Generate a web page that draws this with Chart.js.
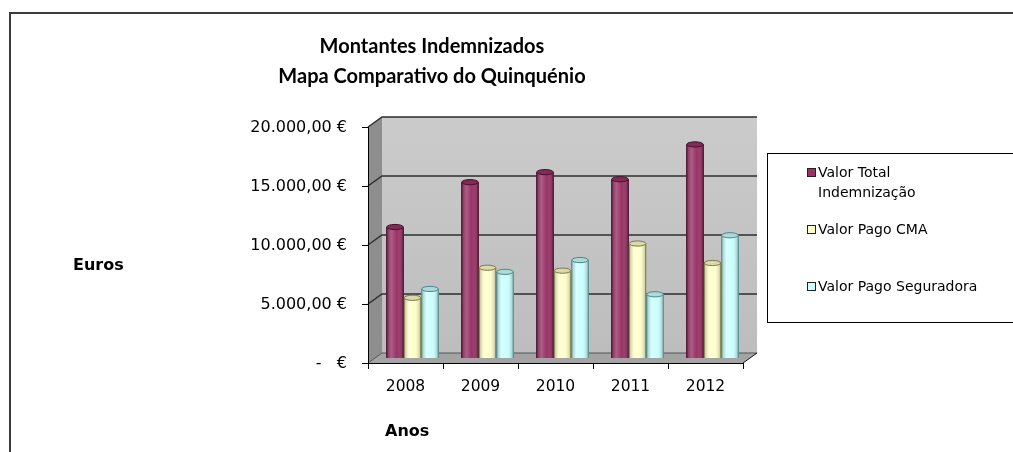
<!DOCTYPE html>
<html><head><meta charset="utf-8">
<script src="https://cdn.jsdelivr.net/npm/chart.js@4.4.1/dist/chart.umd.min.js"></script>
<style>html,body{margin:0;padding:0;background:#fff;overflow:hidden}#wrap{width:1013px;height:452px;position:relative}</style>
</head><body><div id="wrap"><canvas id="c" width="1013" height="452"></canvas></div>
<script>
const years = ['2008', '2009', '2010', '2011', '2012'];
const valorTotal = [11100, 14900, 15750, 15150, 18100];
const valorCMA = [5100, 7650, 7400, 9700, 8050];
const valorSeguradora = [5850, 7300, 8300, 5400, 10400];
const seriesNames = ['Valor Total Indemnização', 'Valor Pago CMA', 'Valor Pago Seguradora'];
const legendLines = [['Valor Total', 'Indemnização'], ['Valor Pago CMA'], ['Valor Pago Seguradora']];
const yTickValues = [0, 5000, 10000, 15000, 20000];
const yTickLabels = ['-   €', '5.000,00 €', '10.000,00 €', '15.000,00 €', '20.000,00 €'];
const titleLines = ['Montantes Indemnizados', 'Mapa Comparativo do Quinquénio'];
const yAxisTitle = 'Euros';
const xAxisTitle = 'Anos';
const colors = ['#993366', '#FFFFCC', '#CCFFFF'];
const edgeColors = ['#4a1030', '#7a7a40', '#4a8a8a'];

const DX = 14, DY = 10; // 3D depth offsets

const backdrop = {
  id: 'backdrop',
  beforeDraw(chart) {
    const ctx = chart.ctx;
    ctx.save();
    ctx.fillStyle = '#fff';
    ctx.fillRect(0, 0, chart.width, chart.height);
    ctx.restore();
  },
  beforeDatasetsDraw(chart) {
    const ctx = chart.ctx, xs = chart.scales.x, ys = chart.scales.y;
    const fl = xs.left - DX / 2, fr = xs.right - DX / 2;
    const bl = xs.left + DX / 2, br = xs.right + DX / 2;
    const yTopF = ys.getPixelForValue(20000) + DY / 2, yTopB = ys.getPixelForValue(20000) - DY / 2;
    const y0F = ys.getPixelForValue(0) + DY / 2, y0B = ys.getPixelForValue(0) - DY / 2;
    ctx.save();
    let g = ctx.createLinearGradient(0, yTopB, 0, y0B);
    g.addColorStop(0, '#cbcbcb'); g.addColorStop(1, '#bdbdbd');
    ctx.fillStyle = g;
    ctx.fillRect(bl, yTopB, br - bl, y0B - yTopB);
    ctx.beginPath();
    ctx.moveTo(fl, yTopF); ctx.lineTo(bl, yTopB); ctx.lineTo(bl, y0B); ctx.lineTo(fl, y0F); ctx.closePath();
    ctx.fillStyle = '#8e8e8e'; ctx.fill();
    ctx.beginPath();
    ctx.moveTo(fl, y0F); ctx.lineTo(bl, y0B); ctx.lineTo(br, y0B); ctx.lineTo(fr, y0F); ctx.closePath();
    ctx.fillStyle = '#a4a4a4'; ctx.fill();
    ctx.strokeStyle = '#2e2e2e'; ctx.lineWidth = 1.5;
    yTickValues.forEach(v => {
      if (v === 0) return;
      const p = ys.getPixelForValue(v);
      ctx.beginPath();
      ctx.moveTo(fl, p + DY / 2); ctx.lineTo(bl, p - DY / 2); ctx.lineTo(br, p - DY / 2);
      ctx.stroke();
    });
    ctx.lineWidth = 1; ctx.strokeStyle = '#555';
    ctx.beginPath(); ctx.moveTo(fl, y0F); ctx.lineTo(bl, y0B); ctx.lineTo(br, y0B); ctx.stroke();
    ctx.strokeStyle = '#111';
    ctx.beginPath(); ctx.moveTo(fr, y0F); ctx.lineTo(br, y0B); ctx.stroke();
    ctx.strokeStyle = '#000'; ctx.lineWidth = 1;
    ctx.beginPath();
    ctx.moveTo(Math.round(fl) + 0.5, yTopF); ctx.lineTo(Math.round(fl) + 0.5, y0F);
    ctx.moveTo(fl, Math.round(y0F) + 0.5); ctx.lineTo(fr, Math.round(y0F) + 0.5);
    yTickValues.forEach(v => {
      const p = Math.round(ys.getPixelForValue(v) + DY / 2) + 0.5;
      ctx.moveTo(fl - 6, p); ctx.lineTo(fl, p);
    });
    const cw = (xs.right - xs.left) / years.length;
    for (let i = 0; i <= years.length; i++) {
      const px = Math.round(fl + i * cw) + 0.5;
      ctx.moveTo(px, y0F); ctx.lineTo(px, y0F + 6);
    }
    ctx.stroke();
    ctx.restore();
  },
  afterDatasetsDraw(chart) {
    const ctx = chart.ctx;
    ctx.save();
    chart.data.datasets.forEach((ds, di) => {
      const meta = chart.getDatasetMeta(di);
      meta.data.forEach(el => {
        const p = el.getProps(['x', 'y', 'base', 'width'], true);
        const l = p.x - p.width / 2, r = p.x + p.width / 2;
        const g = ctx.createLinearGradient(l, 0, r, 0);
        g.addColorStop(0, 'rgba(0,0,0,0.30)');
        g.addColorStop(0.3, 'rgba(255,255,255,0.20)');
        g.addColorStop(0.6, 'rgba(255,255,255,0.0)');
        g.addColorStop(1, 'rgba(0,0,0,0.30)');
        ctx.fillStyle = g;
        ctx.fillRect(l, p.y, p.width, p.base - p.y);
        ctx.strokeStyle = edgeColors[di]; ctx.lineWidth = 1;
        ctx.beginPath();
        ctx.moveTo(l + 0.5, p.y); ctx.lineTo(l + 0.5, p.base);
        ctx.moveTo(r - 0.5, p.y); ctx.lineTo(r - 0.5, p.base);
        ctx.stroke();
        ctx.beginPath();
        ctx.ellipse(p.x, p.y, p.width / 2 - 0.5, 2.6, 0, 0, Math.PI * 2);
        ctx.fillStyle = colors[di]; ctx.fill();
        ctx.fillStyle = 'rgba(0,0,0,0.15)'; ctx.fill();
        ctx.stroke();
      });
    });
    ctx.restore();
  },
  afterDraw(chart) {
    const ctx = chart.ctx;
    ctx.save();
    ctx.strokeStyle = '#3c3c3c'; ctx.lineWidth = 2;
    ctx.beginPath(); ctx.moveTo(10, chart.height + 2); ctx.lineTo(10, 13); ctx.lineTo(chart.width + 2, 13); ctx.stroke();
    ctx.fillStyle = '#000'; ctx.textAlign = 'center'; ctx.textBaseline = 'middle';
    ctx.font = 'bold 20px Lato';
    ctx.fillText(titleLines[0], 432, 47);
    ctx.fillText(titleLines[1], 432, 77);
    ctx.font = 'bold 16px "DejaVu Sans"'; ctx.textAlign = 'left';
    ctx.fillText(yAxisTitle, 73, 266);
    ctx.fillText(xAxisTitle, 385, 432);
    ctx.strokeStyle = '#000'; ctx.lineWidth = 1;
    ctx.strokeRect(767.5, 153.5, 300, 169);
    ctx.font = '14px "DejaVu Sans"';
    const itemY = [173, 230, 287];
    legendLines.forEach((lines, i) => {
      ctx.fillStyle = colors[i];
      ctx.fillRect(807.5, itemY[i] - 4.5, 8, 8);
      ctx.strokeStyle = '#222';
      ctx.strokeRect(807.5, itemY[i] - 4.5, 8, 8);
      ctx.fillStyle = '#000';
      lines.forEach((t, k) => ctx.fillText(t, 818, itemY[i] + k * 20));
    });
    ctx.restore();
  }
};

new Chart(document.getElementById('c'), {
  type: 'bar',
  data: {
    labels: years,
    datasets: [
      { label: seriesNames[0], data: valorTotal, backgroundColor: colors[0] },
      { label: seriesNames[1], data: valorCMA, backgroundColor: colors[1] },
      { label: seriesNames[2], data: valorSeguradora, backgroundColor: colors[2] }
    ]
  },
  options: {
    responsive: false, animation: false, devicePixelRatio: 1,
    layout: { padding: { left: 0, right: 263, top: 122, bottom: 0 } },
    datasets: { bar: { categoryPercentage: 0.7, barPercentage: 1, borderWidth: 0 } },
    plugins: { legend: { display: false }, title: { display: false }, tooltip: { enabled: false } },
    scales: {
      x: {
        grid: { display: false, drawTicks: false }, border: { display: false },
        ticks: { font: { family: 'DejaVu Sans', size: 15.5 }, color: '#000', padding: 20, labelOffset: -7, maxRotation: 0 },
        afterFit(s) { s.height = 94; }
      },
      y: {
        min: 0, max: 20000,
        grid: { display: false, drawTicks: false }, border: { display: false },
        afterBuildTicks(s) { s.ticks = yTickValues.map(v => ({ value: v })); },
        ticks: { font: { family: 'DejaVu Sans', size: 16 }, color: '#000', padding: 28, labelOffset: 6,
          callback: (v) => yTickLabels[yTickValues.indexOf(v)] },
        afterFit(s) { s.width = 375; }
      }
    }
  },
  plugins: [backdrop]
});
</script></body></html>
